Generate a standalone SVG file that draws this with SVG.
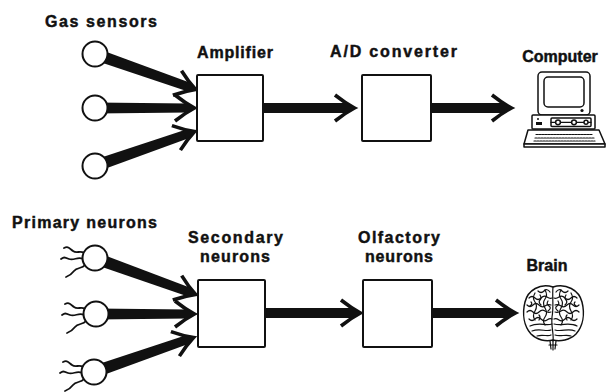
<svg xmlns="http://www.w3.org/2000/svg" xmlns:xlink="http://www.w3.org/1999/xlink" width="608" height="392" viewBox="0 0 608 392">
  <style>
    .lbl { font-family: "Liberation Sans", Arial, sans-serif; font-weight: bold; font-size: 16px; fill: #111; stroke: #111; stroke-width: 0.45; }
    .box { fill: #fff; stroke: #111; stroke-width: 2; }
    .cell { fill: #fff; stroke: #111; stroke-width: 2; }
    .ink { fill: #111; stroke: none; }
    .barb { fill: none; stroke: #111; stroke-width: 3.6; stroke-linejoin: miter; stroke-miterlimit: 10; }
    .dend { fill: none; stroke: #111; stroke-width: 1.8; stroke-linecap: round; }
    .art { fill: #fff; stroke: #111; stroke-width: 1.5; stroke-linejoin: round; }
    .line { fill: none; stroke: #111; stroke-width: 1.2; stroke-linecap: round; }
  </style>
  <defs>
    <!-- barbed arrowhead, tip at origin pointing along +x -->
    <g id="ah">
      <path class="barb" d="M-21,-13 Q-11,-5 -1.5,0 Q-11,5 -21,13"/>
      <polygon class="ink" points="0,0 -12,-5.5 -12,5.5"/>
    </g>
    <!-- dendrite tufts around a receptor cell, relative to its centre -->
    <g id="tuft">
      <path class="dend" d="M-11,-5 C-15,-8 -18,-4 -22,-7 S-27,-12 -31,-10"/>
      <path class="dend" d="M-12,1 C-17,-2 -21,3 -26,1 S-31,-1 -34,1"/>
      <path class="dend" d="M-10,7 C-13,11 -18,9 -21,13 S-26,18 -29,19"/>
    </g>
  </defs>

  <rect width="608" height="392" fill="#fff"/>

  <!-- labels -->
  <g id="labels">
    <text class="lbl" x="45" y="27" textLength="112" lengthAdjust="spacing">Gas sensors</text>
    <text class="lbl" x="197" y="58" textLength="76" lengthAdjust="spacing">Amplifier</text>
    <text class="lbl" x="330" y="57" textLength="127" lengthAdjust="spacing">A/D converter</text>
    <text class="lbl" x="560" y="62" text-anchor="middle">Computer</text>
    <text class="lbl" x="12" y="228" textLength="145" lengthAdjust="spacing">Primary neurons</text>
    <text class="lbl" x="188" y="243" textLength="95" lengthAdjust="spacing">Secondary</text>
    <text class="lbl" x="200" y="262" textLength="70" lengthAdjust="spacing">neurons</text>
    <text class="lbl" x="358" y="243" textLength="82" lengthAdjust="spacing">Olfactory</text>
    <text class="lbl" x="365" y="262" textLength="68" lengthAdjust="spacing">neurons</text>
    <text class="lbl" x="547" y="271" text-anchor="middle">Brain</text>
  </g>

  <!-- connectors -->
  <g id="connectors" class="ink">
    <!-- sensors to amplifier -->
    <g transform="translate(197,90) rotate(19.4)"><polygon points="-108,-6 -8,-4.5 -8,4.5 -108,6"/><use xlink:href="#ah"/></g>
    <g transform="translate(196,108)"><polygon points="-101,-5.5 -8,-4.5 -8,4.5 -101,5.5"/><use xlink:href="#ah"/></g>
    <g transform="translate(196,131) rotate(-19.1)"><polygon points="-107,-6 -8,-4.5 -8,4.5 -107,6"/><use xlink:href="#ah"/></g>
    <!-- amplifier to A/D converter -->
    <g transform="translate(356,108)"><rect x="-94" y="-5" width="86" height="10"/><use xlink:href="#ah"/></g>
    <!-- A/D converter to computer -->
    <g transform="translate(513,108)"><rect x="-83" y="-5" width="75" height="10"/><use xlink:href="#ah"/></g>
    <!-- primary neurons to secondary neurons -->
    <g transform="translate(197,295) rotate(19.9)"><polygon points="-108,-6 -8,-4.5 -8,4.5 -108,6"/><use xlink:href="#ah"/></g>
    <g transform="translate(196,314)"><polygon points="-100,-5.5 -8,-4.5 -8,4.5 -100,5.5"/><use xlink:href="#ah"/></g>
    <g transform="translate(195,337) rotate(-19.1)"><polygon points="-107,-6 -8,-4.5 -8,4.5 -107,6"/><use xlink:href="#ah"/></g>
    <!-- secondary to olfactory neurons -->
    <g transform="translate(362,313)"><rect x="-97" y="-5" width="89" height="10"/><use xlink:href="#ah"/></g>
    <!-- olfactory neurons to brain -->
    <g transform="translate(517,313)"><rect x="-86" y="-5" width="78" height="10"/><use xlink:href="#ah"/></g>
  </g>

  <!-- gas sensors -->
  <g id="sensor-1"><circle class="cell" cx="95" cy="54" r="12.5"/></g>
  <g id="sensor-2"><circle class="cell" cx="95" cy="108" r="12.5"/></g>
  <g id="sensor-3"><circle class="cell" cx="95" cy="166" r="12.5"/></g>

  <!-- processing boxes -->
  <g id="amplifier"><rect class="box" x="197" y="75" width="66" height="66" rx="1"/></g>
  <g id="ad-converter"><rect class="box" x="362" y="75" width="69" height="66" rx="1"/></g>
  <g id="secondary-neurons"><rect class="box" x="198" y="280" width="67" height="67" rx="1"/></g>
  <g id="olfactory-neurons"><rect class="box" x="363" y="280" width="69" height="67" rx="1"/></g>

  <!-- primary neurons with dendrites -->
  <g id="neuron-1"><use xlink:href="#tuft" transform="translate(95,258)"/><circle class="cell" cx="95" cy="258" r="12.5"/></g>
  <g id="neuron-2"><use xlink:href="#tuft" transform="translate(96,314)"/><circle class="cell" cx="96" cy="314" r="12.5"/></g>
  <g id="neuron-3"><use xlink:href="#tuft" transform="translate(94,372)"/><circle class="cell" cx="94" cy="372" r="12.5"/></g>

  <!-- desktop computer -->
  <g id="computer">
    <rect class="art" x="538" y="72" width="52" height="43" rx="4"/>
    <rect class="art" x="544" y="77" width="40" height="30" rx="4"/>
    <circle class="ink" cx="582" cy="110.5" r="1.6"/>
    <rect class="art" x="532" y="115" width="63" height="14" rx="1"/>
    <rect class="ink" x="536" y="122" width="6" height="3"/>
    <circle class="ink" cx="538" cy="119" r="1"/>
    <rect class="art" x="551" y="118" width="40" height="8.5" rx="1"/>
    <line class="line" x1="551" y1="122.3" x2="591" y2="122.3"/>
    <circle class="art" cx="558" cy="122.3" r="2.4"/>
    <circle class="art" cx="574" cy="122.3" r="2.4"/>
    <circle class="art" cx="586" cy="122.3" r="2"/>
    <path class="art" d="M528,130 L599,130 L605,144 L524,144 Z"/>
    <path class="art" d="M524,144 L605,144 L605,147 L524,147 Z"/>
    <path class="line" d="M536,134.5 L592,134.5 M535,138 L594,138 M534,141 L595,141" stroke-dasharray="2 1" stroke-width="2"/>
  </g>

  <!-- brain, posterior view -->
  <g id="brain">
    <path class="art" d="M553,287 C540,283 528,290 525,302 C522,314 524,326 531,334 C537,340 546,342 553,340 C560,342 570,340 576,334 C583,326 585,314 582,302 C579,290 566,283 553,287 Z"/>
    <path class="line" d="M553,287 C552,297 554,307 552,317 C551,327 554,334 553,341"/>
    <g class="line">
      <path d="M538,291 q3,3 6,0 t6,1"/>
      <path d="M529,298 q3,-3 6,0 t6,0 t6,-1 t5,1"/>
      <path d="M527,305 q3,3 6,0 t6,0 t6,1 t6,-1"/>
      <path d="M527,312 q3,-3 6,0 t6,0 t6,-1 t6,1"/>
      <path d="M529,319 q3,3 6,0 t6,0 t6,1 t5,-1"/>
      <path d="M535,293 q-3,5 0,9 t0,9 t0,9"/>
      <path d="M545,290 q3,5 0,9 t0,9 t0,9 t0,8"/>
      <path d="M540,295 q2,3 0,5 t1,5 M531,302 q2,2 -1,4 M548,301 q-2,3 1,5 t-1,5 M539,315 q2,2 0,5"/>
      <path d="M568,291 q-3,3 -6,0 t-6,1"/>
      <path d="M577,298 q-3,-3 -6,0 t-6,0 t-6,-1 t-5,1"/>
      <path d="M579,305 q-3,3 -6,0 t-6,0 t-6,1 t-6,-1"/>
      <path d="M579,312 q-3,-3 -6,0 t-6,0 t-6,-1 t-6,1"/>
      <path d="M577,319 q-3,3 -6,0 t-6,0 t-6,1 t-5,-1"/>
      <path d="M571,293 q3,5 0,9 t0,9 t0,9"/>
      <path d="M561,290 q-3,5 0,9 t0,9 t0,9 t0,8"/>
      <path d="M566,295 q-2,3 0,5 t-1,5 M575,302 q-2,2 1,4 M558,301 q2,3 -1,5 t1,5 M567,315 q-2,2 0,5"/>
      <path d="M530,326 C538,322 546,326 552,324"/>
      <path d="M554,324 C562,326 570,322 577,326"/>
      <path d="M532,331 C540,328 546,332 551,330"/>
      <path d="M555,330 C562,332 568,328 575,331"/>
      <path d="M537,336 C543,334 548,337 551,335"/>
      <path d="M555,335 C560,337 566,334 571,336"/>
      <path d="M550,341 l1,8 M553,341 l0,9 M556,341 l-1,8 M549,345 l8,0"/>
    </g>
  </g>
</svg>
